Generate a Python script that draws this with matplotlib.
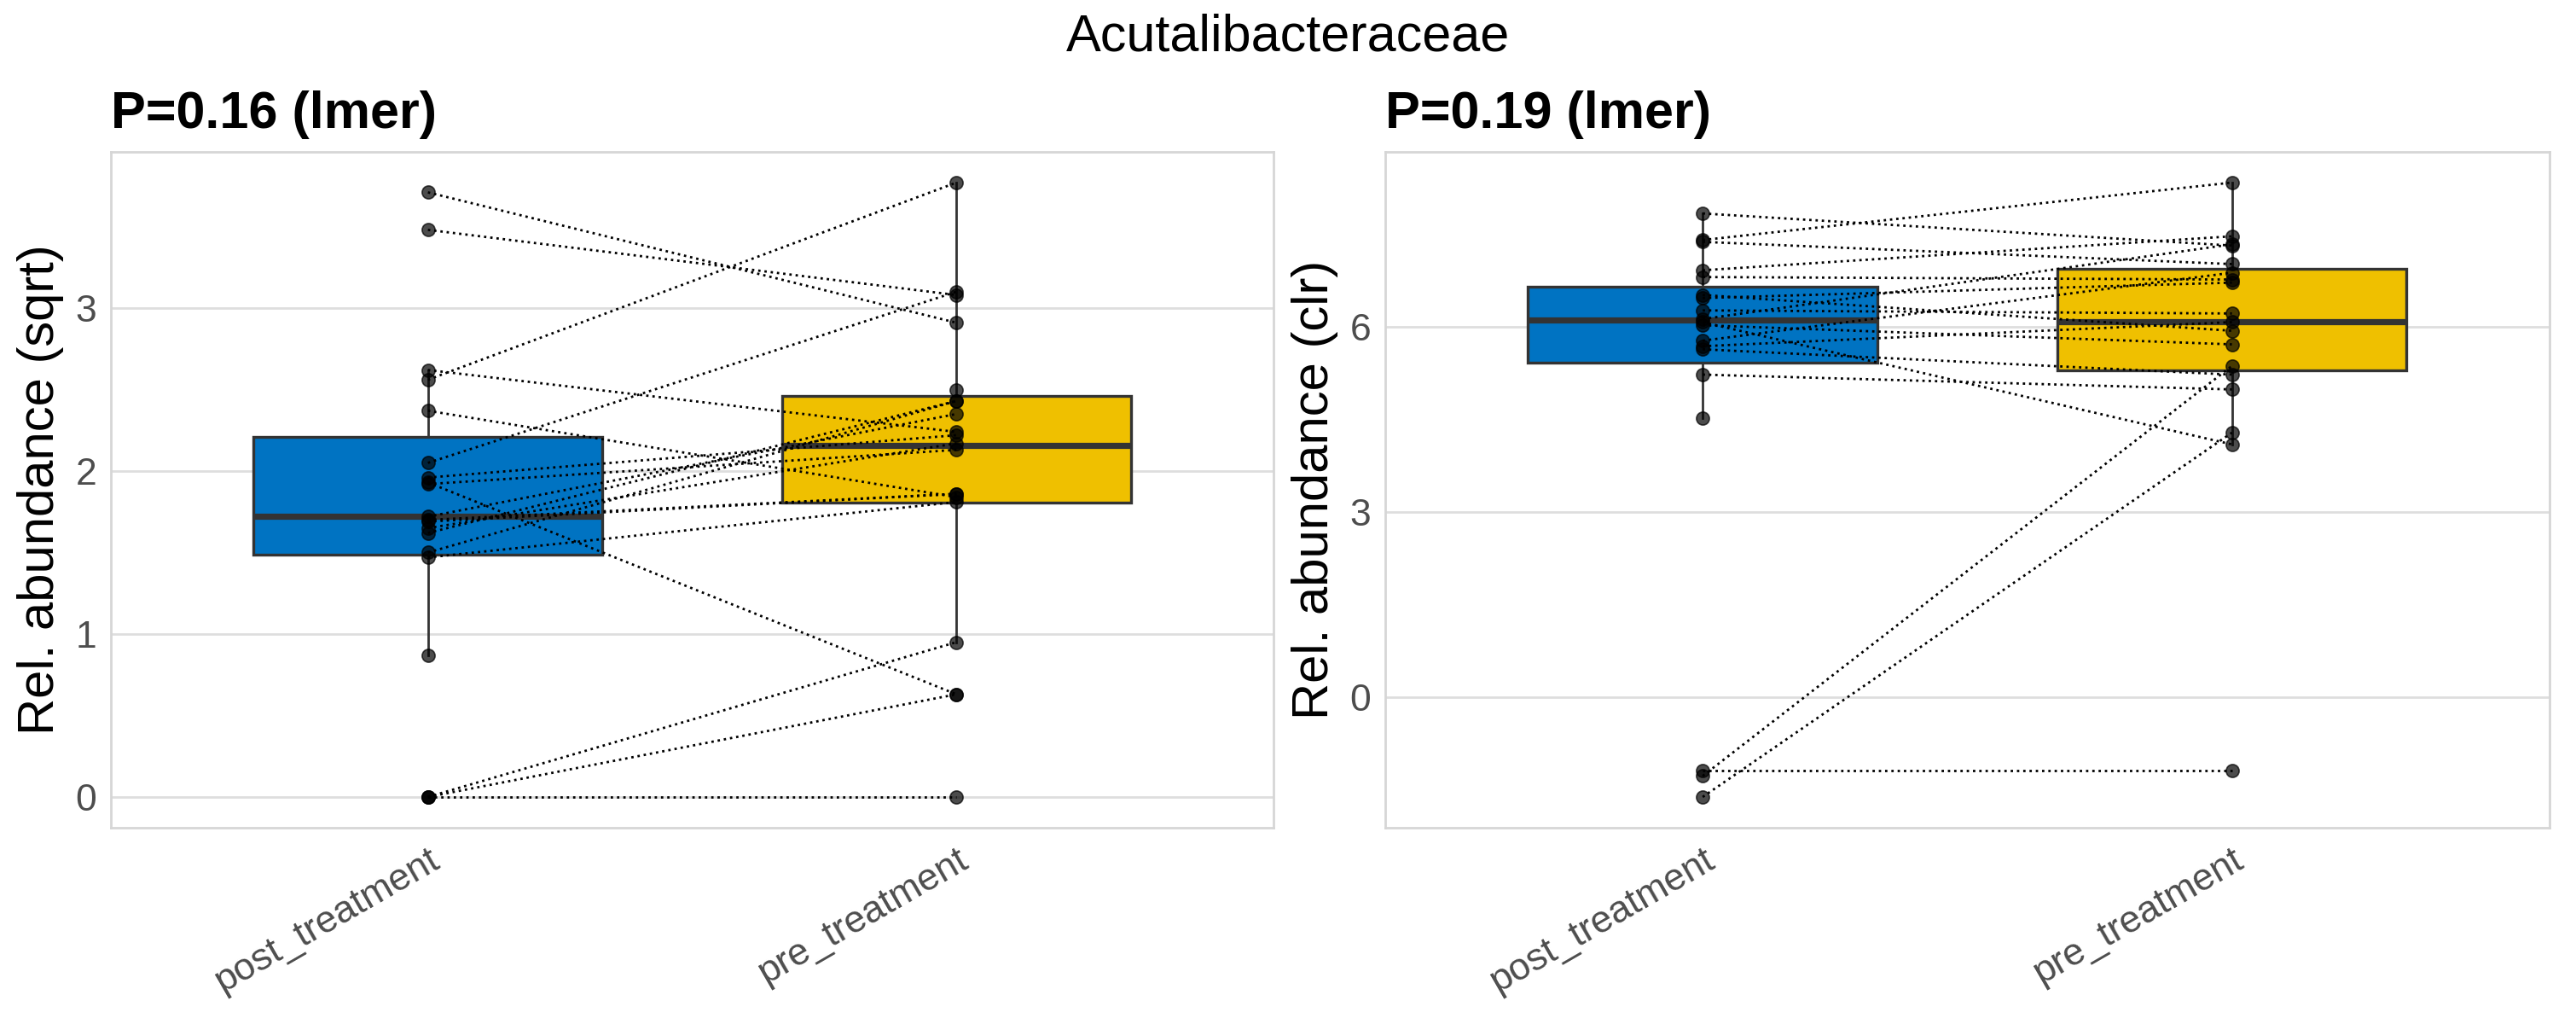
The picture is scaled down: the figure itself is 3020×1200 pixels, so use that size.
import numpy as np
import matplotlib
matplotlib.use("Agg")
import matplotlib.pyplot as plt

plt.rcParams["font.family"] = ["Liberation Sans", "DejaVu Sans"]

suptitle = "Acutalibacteraceae"
groups = ["post_treatment", "pre_treatment"]
group_colors = ["#0073C2", "#EFC000"]

# paired samples (same subject, nan = missing)
sqrt_post = [3.71, 3.48, 2.56, 2.62, 2.37, 2.05, 1.93, 1.96, 1.92, 1.72,
             1.69, 1.65, 1.62, 1.50, 1.47, 1.70, 0.87, 0.0, 0.0, 0.0, np.nan]
sqrt_pre = [2.91, 3.08, 3.77, 2.24, 1.84, 3.10, 0.63, 2.22, 2.13, 2.35,
            1.86, 2.17, 2.43, 2.43, 1.81, 1.86, np.nan, 0.95, 0.63, 0.0, 2.50]

clr_post = [7.83, 7.40, 7.37, 6.91, 6.80, 6.51, 6.46, 6.26, 6.12, 6.07,
            6.02, 5.77, 5.68, 5.63, 5.22, 4.52, -1.19, -1.28, -1.62]
clr_pre = [7.31, 8.33, 7.01, 7.46, 6.76, 5.93, 6.71, 6.21, 7.33, 4.09,
           5.71, 6.87, 6.07, 5.22, 4.98, np.nan, -1.19, 5.36, 4.28]

# box statistics: [post, pre]
sqrt_q1 = [1.486, 1.808]
sqrt_med = [1.724, 2.158]
sqrt_q3 = [2.211, 2.463]
sqrt_whislo = [0.87, 0.95]
sqrt_whishi = [2.62, 3.77]

clr_q1 = [5.42, 5.29]
clr_med = [6.10, 6.07]
clr_q3 = [6.65, 6.93]
clr_whislo = [4.52, 4.09]
clr_whishi = [7.83, 8.33]

panels = [
    dict(title="P=0.16 (lmer)", ylabel="Rel. abundance (sqrt)",
         post=sqrt_post, pre=sqrt_pre, yticks=[0, 1, 2, 3],
         q1=sqrt_q1, med=sqrt_med, q3=sqrt_q3, lo=sqrt_whislo, hi=sqrt_whishi),
    dict(title="P=0.19 (lmer)", ylabel="Rel. abundance (clr)",
         post=clr_post, pre=clr_pre, yticks=[0, 3, 6],
         q1=clr_q1, med=clr_med, q3=clr_q3, lo=clr_whislo, hi=clr_whishi),
]

fig = plt.figure(figsize=(15.1, 6.0), dpi=200)
positions = [[0.0430, 0.1917, 0.4514, 0.6600], [0.5377, 0.1917, 0.4520, 0.6600]]

for pos, p in zip(positions, panels):
    ax = fig.add_axes(pos)
    stats = []
    for i in range(2):
        stats.append(dict(med=p["med"][i], q1=p["q1"][i], q3=p["q3"][i],
                          whislo=p["lo"][i], whishi=p["hi"][i], fliers=[]))
    bp = ax.bxp(stats, positions=[0, 1], widths=0.66, patch_artist=True,
                showfliers=False, showcaps=False,
                boxprops=dict(edgecolor="#333333", linewidth=1.2),
                whiskerprops=dict(color="#333333", linewidth=1.0),
                medianprops=dict(color="#333333", linewidth=2.6))
    for patch, c in zip(bp["boxes"], group_colors):
        patch.set_facecolor(c)
        patch.set_zorder(1)
    for w in bp["whiskers"]:
        w.set_zorder(0.9)
    for m in bp["medians"]:
        m.set_zorder(1.1)

    post = np.array(p["post"], dtype=float)
    pre = np.array(p["pre"], dtype=float)
    for a, b in zip(post, pre):
        if np.isfinite(a) and np.isfinite(b):
            ax.plot([0, 1], [a, b], linestyle=":", color="black",
                    linewidth=1.0, zorder=4)
    for x, vals in ((0, post), (1, pre)):
        v = vals[np.isfinite(vals)]
        ax.scatter(np.full(len(v), x), v, s=30, color="black", alpha=0.7,
                   edgecolors="black", linewidths=0.6, zorder=3)

    ax.set_xlim(-0.6, 1.6)
    ax.set_xticks([0, 1])
    ax.set_xticklabels(groups, rotation=30, ha="right", rotation_mode="anchor")
    ax.set_yticks(p["yticks"])
    ax.tick_params(axis="both", length=0, labelsize=16, labelcolor="#4D4D4D")
    ax.tick_params(axis="y", pad=6)
    ax.tick_params(axis="x", pad=6)
    ax.grid(axis="y", color="#DEDEDE", linewidth=1.0, zorder=0)
    ax.set_axisbelow(True)
    for s in ax.spines.values():
        s.set_color("#D6D6D6")
        s.set_linewidth(1.0)
    ax.set_ylabel(p["ylabel"], fontsize=21.5, color="black", labelpad=5)
    ax.set_title(p["title"], loc="left", fontsize=22, fontweight="bold", pad=10)

fig.text(0.5, 0.95, suptitle, ha="center", va="baseline", fontsize=22)

fig.savefig("out.png", dpi=200, facecolor="white")
